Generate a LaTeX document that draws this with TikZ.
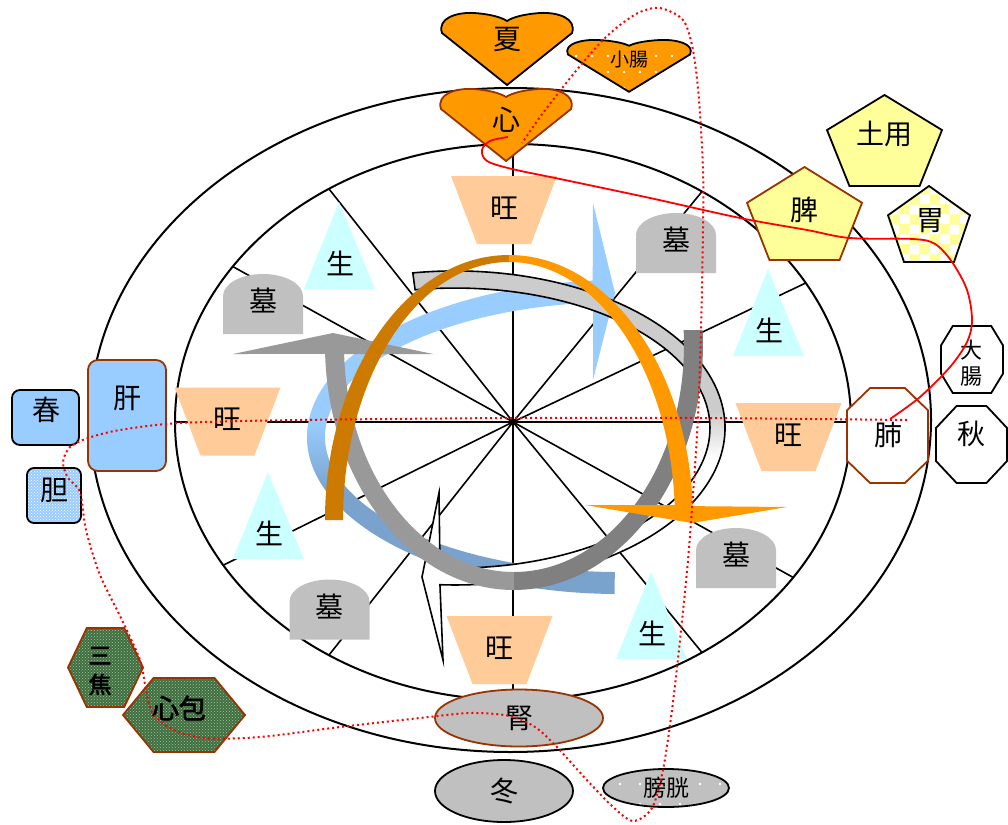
\documentclass[tikz,border=0pt]{standalone}
\usepackage{fontspec}
\newfontfamily\jpfont{Noto Sans CJK JP}
\newfontfamily\jpbold[FakeBold=2.5]{Noto Sans CJK JP}
\usetikzlibrary{shapes.geometric, patterns, patterns.meta}

\definecolor{heartorange}{HTML}{FF9900}
\definecolor{darkorange}{HTML}{CC7A00}
\definecolor{brownline}{HTML}{993300}
\definecolor{earthyellow}{HTML}{FFFF99}
\definecolor{woodblue}{HTML}{99CCFF}
\definecolor{steelblue}{HTML}{79A3CD}
\definecolor{peach}{HTML}{FFCC99}
\definecolor{paleaqua}{HTML}{CCFFFF}
\definecolor{stonegray}{HTML}{C0C0C0}
\definecolor{midgray}{HTML}{999999}
\definecolor{deepgray}{HTML}{808080}
\definecolor{bandgray}{HTML}{CCCCCC}
\definecolor{mossgreen}{HTML}{3F6F3F}
\definecolor{mossdot}{HTML}{A9C2A9}

\pgfdeclareverticalshading{bandfade}{100bp}{color(0bp)=(white); color(50bp)=(white); color(56bp)=(bandgray); color(100bp)=(bandgray)}
\pgfdeclareverticalshading{bluefade}{100bp}{color(0bp)=(steelblue); color(38bp)=(steelblue); color(47bp)=(woodblue); color(100bp)=(woodblue)}
\pgfdeclarepatternformonly{bigchecker}{\pgfqpoint{0pt}{0pt}}{\pgfqpoint{20pt}{20pt}}{\pgfqpoint{20pt}{20pt}}{%
  \pgfpathrectangle{\pgfqpoint{0pt}{0pt}}{\pgfqpoint{10pt}{10pt}}%
  \pgfpathrectangle{\pgfqpoint{10pt}{10pt}}{\pgfqpoint{10pt}{10pt}}%
  \pgfusepath{fill}}

% outline paths: centre x, centre y (top y for the heart), sizes
\newcommand{\heartpath}[4]{({#1},{#2+72*#4}) -- ({#1-65*#3},{#2+20*#4})
  .. controls ({#1-70*#3},{#2+5*#4}) and ({#1-50*#3},{#2-1*#4}) .. ({#1-33*#3},{#2})
  .. controls ({#1-18*#3},{#2+1*#4}) and ({#1-6*#3},{#2+4*#4}) .. ({#1},{#2+8*#4})
  .. controls ({#1+6*#3},{#2+4*#4}) and ({#1+18*#3},{#2+1*#4}) .. ({#1+33*#3},{#2})
  .. controls ({#1+50*#3},{#2-1*#4}) and ({#1+70*#3},{#2+5*#4}) .. ({#1+65*#3},{#2+20*#4}) -- cycle}
\newcommand{\pentapath}[4]{({#1},{#2-#4}) -- ({#1+#3},{#2-0.23*#4}) -- ({#1+0.61*#3},{#2+#4}) -- ({#1-0.61*#3},{#2+#4}) -- ({#1-#3},{#2-0.23*#4}) -- cycle}
\newcommand{\octapath}[6]{({#1-#5*#3},{#2-#4}) -- ({#1+#5*#3},{#2-#4}) -- ({#1+#3},{#2-#6*#4}) -- ({#1+#3},{#2+#6*#4}) -- ({#1+#5*#3},{#2+#4}) -- ({#1-#5*#3},{#2+#4}) -- ({#1-#3},{#2+#6*#4}) -- ({#1-#3},{#2-#6*#4}) -- cycle}
\newcommand{\hexapath}[4]{({#1-0.5*#3},{#2-#4}) -- ({#1+0.5*#3},{#2-#4}) -- ({#1+#3},{#2}) -- ({#1+0.5*#3},{#2+#4}) -- ({#1-0.5*#3},{#2+#4}) -- ({#1-#3},{#2}) -- cycle}
\newcommand{\trappath}[2]{({#1-53},{#2-34}) -- ({#1+53},{#2-34}) -- ({#1+27},{#2+34}) -- ({#1-27},{#2+34}) -- cycle}
\newcommand{\tripath}[2]{({#1-1},{#2-61}) -- ({#1+35},{#2+26}) -- ({#1-36},{#2+26}) -- cycle}
\newcommand{\tombpath}[2]{({#1-40},{#2+30}) -- ({#1-40},{#2-8}) arc[start angle=180, end angle=360, x radius=40, y radius=22] -- ({#1+40},{#2+30}) -- cycle}

\begin{document}
\begin{tikzpicture}[x=1pt, y=-1pt,
    rim/.style={draw=black, line width=2pt}, % the two rings
    spoke/.style={draw=black, line width=1.6pt},
    txt/.style={font=\jpfont\fontsize{28}{30}\selectfont, inner sep=0pt},
    heartshape/.style={fill=heartorange, line width=1.8pt},
    earthshape/.style={fill=earthyellow, line width=1.8pt},
    metalshape/.style={fill=white, line width=1.8pt},
    fireshape/.style={draw=brownline, line width=1.8pt, preaction={fill=mossgreen}, pattern=crosshatch dots, pattern color=mossdot},
    woodbox/.style={fill=woodblue, line width=1.8pt, inner sep=0pt},
    waterbox/.style={ellipse, fill=stonegray, line width=1.8pt, inner sep=0pt, font=\jpfont\fontsize{28}{30}\selectfont},
    redline/.style={draw=red, line width=1.8pt},
    reddots/.style={draw=red, line width=2pt, dash pattern=on 2pt off 3pt}
  ]
  \useasboundingbox (0,0) rectangle (1008,824);

  % rings and spokes
  \draw[rim] (510.5,420) ellipse[x radius=420.5, y radius=332];
  \draw[rim] (513,422) ellipse[x radius=338, y radius=278];
  \coordinate (hub) at (513,422);
  \foreach \a in {0,30,56,90,123,146,180,211,237,270,304,326}
    \draw[spoke] (hub) -- ++(-\a:338 and 278);

  % wang / sei / bo marks
  \foreach \x/\y/\n in {504/210/1, 227.5/421.5/2, 788.5/437/3, 499.5/650/4} {
    \path[fill=peach] \trappath{\x}{\y};
    \node[txt] (wang\n) at (\x,{\y-2}) {旺};
  }
  \foreach \x/\y/\n in {340/263/1, 769/330/2, 269/533/3, 652/633/4} {
    \path[fill=paleaqua] \tripath{\x}{\y};
    \node[txt] (sei\n) at (\x,\y) {生};
  }
  \foreach \x/\y/\n in {263/304/1, 676/243/2, 736/558/3, 329.5/609.5/4} {
    \path[fill=stonegray] \tombpath{\x}{\y};
    \node[txt] (bo\n) at (\x,{\y-3}) {墓};
  }

  % circulating arrows
  \shade[shading=bluefade] (614.5,594) arc[start angle=91, end angle=265, x radius=313, y radius=157]
    -- (593,203) -- (615,293) -- (593,380) -- (593,302.6)
    arc[start angle=264.75, end angle=91, x radius=295, y radius=135] -- cycle;
  \shadedraw[shading=bandfade, draw=black, line width=1.6pt] (412.8,272.9) arc[start angle=261, end angle=453.2, x radius=270, y radius=157]
    -- (443,660) -- (422,577) -- (439,493) -- (440,567.8)
    arc[start angle=453.37, end angle=261, x radius=255, y radius=140] -- cycle;
  \fill[deepgray] (702.6,330) arc[start angle=-3.5, end angle=90, x radius=189, y radius=245]
    -- (514,572) arc[start angle=90, end angle=-3.79, x radius=170, y radius=227] -- cycle;
  \fill[midgray] (514,590) arc[start angle=90, end angle=177.9, x radius=189, y radius=245]
    -- (233,354) -- (333,333) -- (433,354) -- (344.1,354)
    arc[start angle=177.73, end angle=90, x radius=170, y radius=227] -- cycle;
  \fill[darkorange] (325,520) arc[start angle=180, end angle=270, x radius=184, y radius=265]
    -- (509,262) arc[start angle=270, end angle=180, x radius=166, y radius=258] -- cycle;
  \fill[heartorange] (509,255) arc[start angle=270, end angle=357, x radius=184, y radius=265]
    -- (787,507) -- (692,523) -- (585,505) -- (674.7,505)
    arc[start angle=356.67, end angle=270, x radius=166, y radius=258] -- cycle;

  % fire
  \draw[heartshape, draw=black] \heartpath{507}{13}{1}{1};
  \draw[heartshape, draw=black, preaction={fill=heartorange}, pattern={Dots[distance=16pt, radius=1.3pt]}, pattern color=white] \heartpath{629}{40}{0.94}{0.72};
  \draw[heartshape, draw=brownline] \heartpath{506}{89}{1}{1};
  \node[txt] (summer) at (507,40) {夏};
  \node[txt, font=\jpfont\fontsize{19}{21}\selectfont] (smallint) at (629,59) {小腸};
  \node[txt] (heart) at (506,120) {心};

  % earth
  \draw[earthshape, draw=black] \pentapath{884.5}{140.5}{57.5}{45.5};
  \draw[earthshape, draw=brownline] \pentapath{804.5}{213.5}{57.5}{46.5};
  \draw[earthshape, draw=black, preaction={fill=earthyellow}, pattern=bigchecker, pattern color=white] \pentapath{929}{224}{41}{38};
  \node[txt] (doyo) at (884,134) {土用};
  \node[txt] (spleen) at (804,210) {脾};
  \node[txt] (stomach) at (930,221) {胃};

  % metal
  \draw[metalshape, draw=black] \octapath{972}{359.5}{31}{33.5}{0.62}{0.42};
  \draw[metalshape, draw=black] \octapath{971.5}{444.5}{35.5}{38.5}{0.42}{0.43};
  \draw[metalshape, draw=brownline] \octapath{887.5}{435.5}{40.5}{47.5}{0.43}{0.53};
  \node[txt, align=center, font=\jpfont\fontsize{22}{26}\selectfont] (largeint) at (971,363) {大\\腸};
  \node[txt] (autumn) at (971,434) {秋};
  \node[txt] (lung) at (888,435) {肺};

  % wood
  \node[woodbox, draw=black, rounded corners=8pt, minimum width=67pt, minimum height=55pt] (springbox) at (45.5,417.5) {};
  \node[woodbox, draw=brownline, rounded corners=10pt, minimum width=78pt, minimum height=111pt] (liverbox) at (127,415.5) {};
  \node[woodbox, draw=black, rounded corners=7pt, minimum width=54pt, minimum height=55pt, preaction={fill=woodblue}, pattern=crosshatch dots, pattern color=white] (gallbox) at (54,495.5) {};
  \node[txt] (spring) at (46,410) {春};
  \node[txt] (liver) at (127,398) {肝};
  \node[txt] (gall) at (54,490) {胆};

  % ministerial fire
  \draw[fireshape] \hexapath{105.5}{667.5}{37.5}{39.5};
  \draw[fireshape] \hexapath{184}{715}{61}{37};
  \node[txt, align=center, font=\jpbold\fontsize{23}{29}\selectfont] (sanjiao) at (100,671) {三\\焦};
  \node[txt, font=\jpbold\fontsize{27}{30}\selectfont] (pericard) at (179,708) {心包};

  % water
  \node[waterbox, draw=brownline, minimum width=168pt, minimum height=57pt] (kidney) at (519,718) {腎};
  \node[waterbox, draw=black, minimum width=138pt, minimum height=62pt] (winter) at (504,791) {冬};
  \node[waterbox, draw=black, minimum width=126pt, minimum height=38pt, preaction={fill=stonegray}, pattern={Dots[distance=20pt, radius=1.4pt]}, pattern color=white, font=\jpfont\fontsize{23}{26}\selectfont] (bladder) at (666,788) {膀胱};

  % red links
  \coordinate (redstart) at (508,137);
  \coordinate (redend) at (890,419);
  \draw[redline] plot[smooth, tension=0.55] coordinates {(redstart) (490,141) (482,150) (487,161) (512,169) (560,179) (650,198) (740,218) (807,230) (850,238) (913,239) (935,244) (952,262) (967,290) (972,320) (967,342) (950,367) (920,397) (redend)};
  \coordinate (dotstart) at (907,420);
  \coordinate (dotend) at (522,143);
  \draw[reddots] plot[smooth, tension=0.5] coordinates {(dotstart) (700,418) (513,418) (300,420) (180,423) (120,430) (88,438) (70,447) (63,462) (68,478) (80,492) (86,530) (100,575) (122,620) (140,660) (146,690) (152,712) (170,728) (203,738) (260,737) (340,727) (420,718) (470,713) (510,716) (535,727) (555,745) (585,778) (612,806) (633,821) (652,808) (663,770) (672,710) (680,640) (688,560) (694,480) (698,417) (701,330) (703,230) (703,170) (699,100) (693,50) (683,20) (660,8) (640,12) (620,25) (603,40) (585,60) (563,87) (540,117) (dotend)};
\end{tikzpicture}
\end{document}
